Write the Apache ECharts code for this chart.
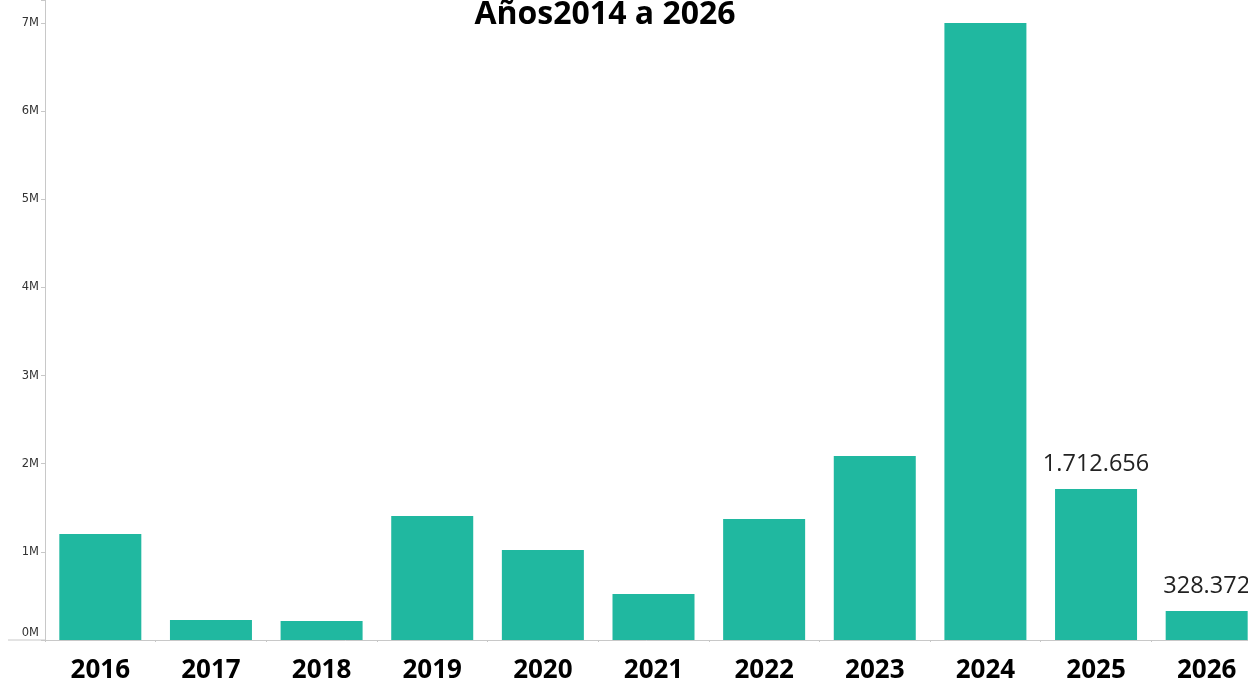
<!DOCTYPE html>
<html>
<head>
<meta charset="utf-8">
<script src="https://cdn.jsdelivr.net/npm/echarts@6/dist/echarts.min.js"></script>
<style>
html,body{margin:0;padding:0;background:#fff;}
#chart{width:1248px;height:686px;}
</style>
</head>
<body>
<div id="chart"></div>
<script>
const titleText = 'Años2014 a 2026';
const categories = ['2016','2017','2018','2019','2020','2021','2022','2023','2024','2025','2026'];
const values = [1203000, 227000, 216000, 1407000, 1021000, 522000, 1373000, 2088000, 7000000, 1712656, 328372];
const labeledYears = ['2025','2026'];
const yTickValues = [0,1000000,2000000,3000000,4000000,5000000,6000000,7000000];

const chart = echarts.init(document.getElementById('chart'));
const option = {
  animation: false,
  title: {
    text: titleText,
    left: 600, top: -6, textAlign: 'center',
    textStyle: {fontFamily: 'Open Sans', fontWeight: 'bold', fontSize: 32, color: '#000'}
  },
  grid: {left: 45, width: 1217, top: 0, bottom: 46, containLabel: false, outerBoundsMode: 'none'},
  xAxis: {
    type: 'category',
    data: categories,
    axisLine: {show: true, lineStyle: {color: '#c8c8c8', width: 1}},
    axisTick: {show: true, length: 2, lineStyle: {color: '#c8c8c8'}},
    axisLabel: {fontFamily: 'Open Sans', fontWeight: 'bold', fontSize: 26, color: '#000', margin: 18}
  },
  yAxis: {
    type: 'value',
    min: 0, max: 7260000, interval: 1000000,
    splitLine: {show: false},
    axisLine: {show: true, lineStyle: {color: '#c8c8c8', width: 1}},
    axisTick: {show: true, length: 4, lineStyle: {color: '#c8c8c8'}},
    axisLabel: {
      fontFamily: 'DejaVu Sans', fontSize: 11.5, color: '#333', margin: 6,
      formatter: function (v) {
        if (yTickValues.indexOf(v) < 0) return '';
        const t = (v / 1000000) + 'M';
        return v === 0 ? '{z|' + t + '}' : t;
      },
      rich: {z: {fontFamily: 'DejaVu Sans', fontSize: 11.5, color: '#333', padding: [0, 0, 14, 0]}}
    }
  },
  series: [{
    type: 'bar',
    data: values.map(function (v, i) {
      const show = labeledYears.indexOf(categories[i]) >= 0;
      return {value: v, label: {show: show}};
    }),
    barWidth: 82,
    itemStyle: {color: '#20b8a0'},
    label: {
      position: 'top', distance: 13,
      fontFamily: 'Open Sans', fontSize: 23.5, color: '#222',
      formatter: function (p) { return p.value.toLocaleString('de-DE'); }
    }
  }]
};
chart.setOption(option);
const y0 = chart.convertToPixel({yAxisIndex: 0}, 0);
chart.setOption({
  graphic: [{
    type: 'line', shape: {x1: 8, y1: y0, x2: 45, y2: y0},
    style: {stroke: '#c8c8c8', lineWidth: 1}, silent: true
  }]
});
</script>
</body>
</html>
